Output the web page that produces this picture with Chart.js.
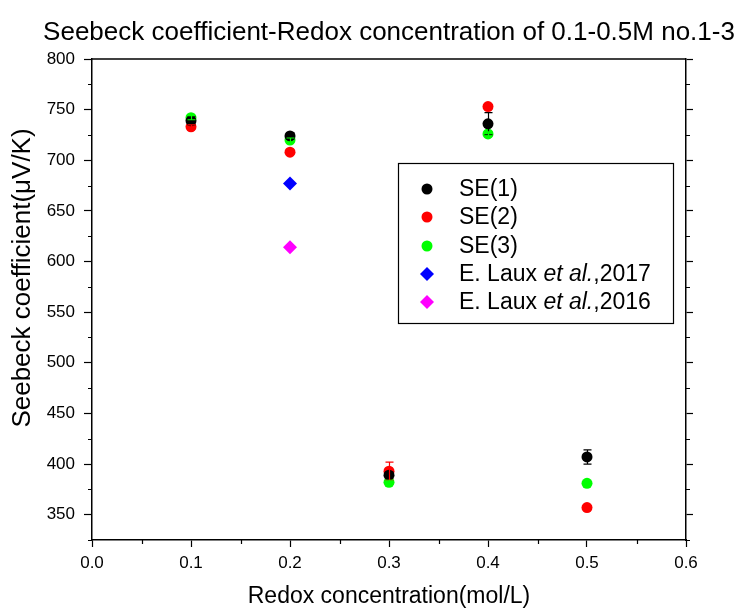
<!DOCTYPE html>
<html><head><meta charset="utf-8">
<script src="https://cdn.jsdelivr.net/npm/chart.js@4.4.0/dist/chart.umd.min.js"></script>
<style>html,body{margin:0;padding:0;background:#fff}#wrap{width:740px;height:610px;position:relative}</style>
</head><body><div id="wrap"><canvas id="c"></canvas></div>
<script>
// ---- data ----
const concentrations = [0.1, 0.2, 0.3, 0.4, 0.5];
const se1 = [739, 724, 389, 736, 407];
const se1Err = [4, 3, 3, 11, 7];
const se2 = [733, 708, 393, 753, 357];
const se2Err = [2, 2, 9, 2, 1];
const se3 = [742, 720, 382, 726, 381];
const se3Err = [2, 2, 2, 2, 1];
const laux2017X = [0.2];
const laux2017 = [677];
const laux2016X = [0.2];
const laux2016 = [614];
const seriesLabels = ['SE(1)', 'SE(2)', 'SE(3)', 'E. Laux et al.,2017', 'E. Laux et al.,2016'];
const titleText = 'Seebeck coefficient-Redox concentration of 0.1-0.5M no.1-3';
const xTitle = 'Redox concentration(mol/L)';
const yTitle = 'Seebeck coefficient(\u03BCV/K)';
const xRange = [0, 0.6];
const yRange = [325, 800];

const FONT = "'Liberation Sans', Arial, sans-serif";
const pts = (xs, ys) => xs.map((v, i) => ({x: v, y: ys[i]}));

const errorBars = {
  id: 'errorBars',
  afterDatasetsDraw(chart) {
    const {ctx, scales: {x, y}} = chart;
    chart.data.datasets.forEach((ds) => {
      if (!ds.errors) return;
      ctx.save();
      ctx.strokeStyle = ds.errorColor;
      ctx.lineWidth = 1.2;
      ds.data.forEach((p, j) => {
        const e = ds.errors[j];
        const px = Math.round(x.getPixelForValue(p.x)) + 0.5;
        const y1 = y.getPixelForValue(p.y + e), y2 = y.getPixelForValue(p.y - e);
        ctx.beginPath();
        ctx.moveTo(px, y1); ctx.lineTo(px, y2);
        ctx.moveTo(px - 4, y1); ctx.lineTo(px + 4, y1);
        ctx.moveTo(px - 4, y2); ctx.lineTo(px + 4, y2);
        ctx.stroke();
      });
      ctx.restore();
    });
  }
};

const frameAndMinor = {
  id: 'frameAndMinor',
  afterDraw(chart) {
    const {ctx, chartArea: a, scales: {x, y}} = chart;
    ctx.save();
    // chart title (centred over the plot area)
    ctx.fillStyle = '#000';
    ctx.font = '26px ' + FONT;
    ctx.textAlign = 'center';
    ctx.textBaseline = 'middle';
    ctx.fillText(titleText, (a.left + a.right) / 2, 33);
    // y-axis title
    ctx.save();
    ctx.translate(23, 278);
    ctx.rotate(-Math.PI / 2);
    ctx.font = '26px ' + FONT;
    ctx.fillText(yTitle, 0, 0);
    ctx.restore();
    // frame top + minor ticks
    ctx.strokeStyle = '#000';
    ctx.lineWidth = 1.5;
    ctx.beginPath();
    ctx.moveTo(a.left, a.top); ctx.lineTo(a.right, a.top);
    ctx.stroke();
    ctx.lineWidth = 1.2;
    ctx.beginPath();
    for (let v = 325; v <= 800; v += 25) {
      if (v % 50 === 0) continue;
      const py = Math.round(y.getPixelForValue(v)) + 0.5;
      ctx.moveTo(a.left - 4, py); ctx.lineTo(a.left, py);
      ctx.moveTo(a.right, py); ctx.lineTo(a.right + 4, py);
    }
    for (let k = 1; k < 12; k += 2) {
      const px = Math.round(x.getPixelForValue(k * 0.05)) + 0.5;
      ctx.moveTo(px, a.bottom); ctx.lineTo(px, a.bottom + 4);
    }
    ctx.stroke();
    ctx.restore();
  }
};

const legendBox = {left: 398, top: 163, right: 673, bottom: 323, markerX: 427, textX: 459, rowY: [189, 217, 246, 274, 302]};
const customLegend = {
  id: 'customLegend',
  afterDraw(chart) {
    const ctx = chart.ctx;
    ctx.save();
    ctx.fillStyle = '#fff';
    ctx.fillRect(legendBox.left, legendBox.top, legendBox.right - legendBox.left, legendBox.bottom - legendBox.top);
    ctx.strokeStyle = '#000';
    ctx.lineWidth = 1.2;
    ctx.strokeRect(legendBox.left + 0.5, legendBox.top + 0.5, legendBox.right - legendBox.left, legendBox.bottom - legendBox.top);
    chart.data.datasets.forEach((ds, i) => {
      const yy = legendBox.rowY[i];
      ctx.fillStyle = ds.backgroundColor;
      ctx.strokeStyle = ds.backgroundColor;
      Chart.helpers.drawPoint(ctx, {pointStyle: ds.pointStyle, radius: ds.pointRadius, rotation: 0, borderWidth: 0}, legendBox.markerX, yy);
      ctx.fillStyle = '#000';
      ctx.textBaseline = 'middle';
      ctx.textAlign = 'left';
      const parts = ds.label.split(/(et al\.)/);
      let tx = legendBox.textX;
      parts.forEach(p => {
        if (!p) return;
        ctx.font = (p === 'et al.' ? 'italic ' : '') + '23px ' + FONT;
        ctx.fillText(p, tx, yy + 1);
        tx += ctx.measureText(p).width;
      });
    });
    ctx.restore();
  }
};

const mk = (label, xs, ys, color, style, r, errs) => ({
  label, data: pts(xs, ys), backgroundColor: color, borderColor: color, borderWidth: 0,
  pointStyle: style, pointRadius: r, pointHoverRadius: r, errors: errs, errorColor: color
});

new Chart(document.getElementById('c'), {
  type: 'scatter',
  data: {
    datasets: [
      mk(seriesLabels[0], concentrations, se1, '#000000', 'circle', 5.5, se1Err),
      mk(seriesLabels[1], concentrations, se2, '#ff0000', 'circle', 5.5, se2Err),
      mk(seriesLabels[2], concentrations, se3, '#00ff00', 'circle', 5.5, se3Err),
      mk(seriesLabels[3], laux2017X, laux2017, '#0000ff', 'rectRot', 7, null),
      mk(seriesLabels[4], laux2016X, laux2016, '#ff00ff', 'rectRot', 7, null)
    ]
  },
  options: {
    responsive: true, maintainAspectRatio: false, animation: false,
    layout: {padding: {top: 59, left: 0, right: 0, bottom: 0}},
    plugins: {
      legend: {display: false},
      tooltip: {enabled: false},
      title: {display: false}
    },
    scales: {
      x: {
        type: 'linear', min: xRange[0], max: xRange[1],
        grid: {drawOnChartArea: false, drawTicks: true, tickLength: 7, tickColor: '#000', tickWidth: 1.2},
        border: {display: true, color: '#000', width: 1.5},
        ticks: {stepSize: 0.1, color: '#000', padding: 6, font: {family: FONT, size: 17}, callback: v => v.toFixed(1), maxRotation: 0},
        title: {display: true, text: xTitle, color: '#000', font: {family: FONT, size: 23, lineHeight: 1.2}, padding: {top: 0, bottom: 0}},
        afterFit: s => { s.height = 70; }
      },
      y: {
        type: 'linear', position: 'left', min: yRange[0], max: yRange[1],
        grid: {drawOnChartArea: false, tickLength: 8, tickWidth: 1.2, tickColor: c => (c.tick && c.tick.value % 50 === 0) ? '#000' : 'rgba(0,0,0,0)'},
        border: {display: true, color: '#000', width: 1.5},
        ticks: {stepSize: 25, color: '#000', padding: 9, font: {family: FONT, size: 17}, callback: v => v % 50 === 0 ? String(v) : ''},
        title: {display: false},
        afterFit: s => { s.width = 92; }
      },
      y2: {
        type: 'linear', position: 'right', min: yRange[0], max: yRange[1],
        grid: {drawOnChartArea: false, tickLength: 7, tickWidth: 1.2, tickColor: c => (c.tick && c.tick.value % 50 === 0) ? '#000' : 'rgba(0,0,0,0)'},
        border: {display: true, color: '#000', width: 1.5},
        ticks: {stepSize: 25, display: false},
        afterFit: s => { s.width = 54; }
      }
    }
  },
  plugins: [errorBars, frameAndMinor, customLegend]
});
</script>
</body></html>
